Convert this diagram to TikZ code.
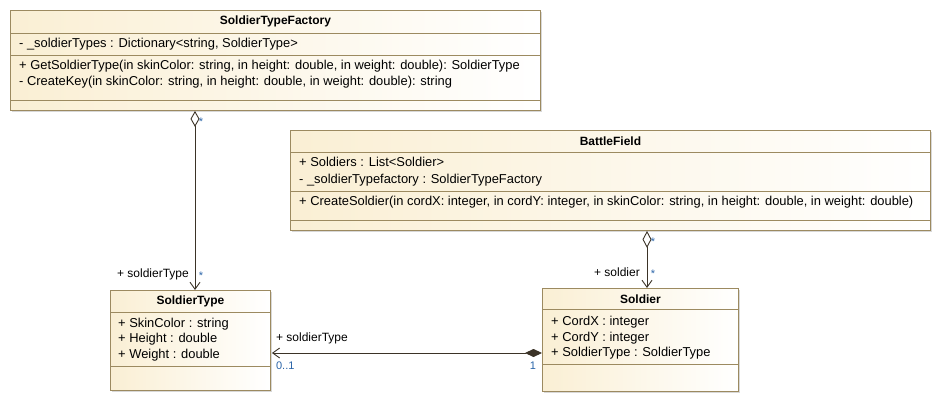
\documentclass[tikz,border=0pt]{standalone}
\usepackage{fontspec}
\setmainfont{Liberation Sans}
\usetikzlibrary{arrows.meta,calc,shadows}
\definecolor{umlfill}{HTML}{FAEFD4}
\definecolor{umlborder}{HTML}{9C8A60}
\definecolor{umlline}{HTML}{3B3327}
\definecolor{multcol}{HTML}{2A64A8}
\begin{document}
\begin{tikzpicture}[x=1pt,y=-1pt,
  font=\fontsize{12.9}{15}\selectfont,
  classbox/.style={draw=umlborder, line width=0.9pt, inner sep=0pt, anchor=north west,
    left color=umlfill, right color=white,
    drop shadow={shadow xshift=2pt, shadow yshift=-2pt, fill=black!30, opacity=0.5}},
  divider/.style={draw=umlborder, line width=0.9pt},
  member/.style={anchor=west, inner sep=0pt, text=black},
  ctitle/.style={inner sep=0pt, font=\fontsize{12}{14}\selectfont\bfseries},
  role/.style={inner sep=0pt, text=black, font=\fontsize{12}{14}\selectfont},
  mult/.style={inner sep=0pt, text=multcol, font=\fontsize{11}{13}\selectfont},
  assoc/.style={draw=umlline, line width=0.9pt},
]
\useasboundingbox (0,0) rectangle (941,403);

% ---- SoldierTypeFactory
\node[classbox, minimum width=530pt, minimum height=100pt] (stf) at (10,10) {};
\node[ctitle] (stfT) at ($(stf.north)+(0,11)$) {SoldierTypeFactory};
\draw[divider] ($(stf.north west)+(0,23)$) -- ($(stf.north east)+(0,23)$);
\node[member] (stfA) at ($(stf.north west)+(9,34)$) {- \_soldierTypes : Dictionary<string, SoldierType>};
\draw[divider] ($(stf.north west)+(0,45)$) -- ($(stf.north east)+(0,45)$);
\node[member] (stfO1) at ($(stf.north west)+(9,56)$) {+ GetSoldierType(in skinColor: string, in height: double, in weight: double): SoldierType};
\node[member] (stfO2) at ($(stf.north west)+(9,72)$) {- CreateKey(in skinColor: string, in height: double, in weight: double): string};
\draw[divider] ($(stf.north west)+(0,90)$) -- ($(stf.north east)+(0,90)$);

% ---- BattleField
\node[classbox, minimum width=640pt, minimum height=100pt] (bf) at (290,130) {};
\node[ctitle] (bfT) at ($(bf.north)+(0,11)$) {BattleField};
\draw[divider] ($(bf.north west)+(0,22)$) -- ($(bf.north east)+(0,22)$);
\node[member] (bfA1) at ($(bf.north west)+(9,32)$) {+ Soldiers : List<Soldier>};
\node[member] (bfA2) at ($(bf.north west)+(9,50)$) {- \_soldierTypefactory : SoldierTypeFactory};
\draw[divider] ($(bf.north west)+(0,61)$) -- ($(bf.north east)+(0,61)$);
\node[member] (bfO1) at ($(bf.north west)+(9,72)$) {+ CreateSoldier(in cordX: integer, in cordY: integer, in skinColor: string, in height: double, in weight: double)};
\draw[divider] ($(bf.north west)+(0,90)$) -- ($(bf.north east)+(0,90)$);

% ---- SoldierType
\node[classbox, minimum width=160pt, minimum height=100pt] (st) at (110,290) {};
\node[ctitle] (stT) at ($(st.north)+(0,11)$) {SoldierType};
\draw[divider] ($(st.north west)+(0,22)$) -- ($(st.north east)+(0,22)$);
\node[member] (stA1) at ($(st.north west)+(8,34)$) {+ SkinColor : string};
\node[member] (stA2) at ($(st.north west)+(8,49)$) {+ Height : double};
\node[member] (stA3) at ($(st.north west)+(8,65)$) {+ Weight : double};
\draw[divider] ($(st.north west)+(0,76)$) -- ($(st.north east)+(0,76)$);

% ---- Soldier
\node[classbox, minimum width=196pt, minimum height=103pt] (sd) at (542,288) {};
\node[ctitle] (sdT) at ($(sd.north)+(0,11)$) {Soldier};
\draw[divider] ($(sd.north west)+(0,21)$) -- ($(sd.north east)+(0,21)$);
\node[member] (sdA1) at ($(sd.north west)+(9,34)$) {+ CordX : integer};
\node[member] (sdA2) at ($(sd.north west)+(9,50)$) {+ CordY : integer};
\node[member] (sdA3) at ($(sd.north west)+(9,65)$) {+ SoldierType : SoldierType};
\draw[divider] ($(sd.north west)+(0,76)$) -- ($(sd.north east)+(0,76)$);

% ---- connectors
\draw[assoc, {Diamond[open,length=16pt,width=9pt]}-{Straight Barb[length=7pt,width=10pt]}]
  ($(stf.south west)+(185,0)$) -- ($(st.north west)+(85,0)$);
\node[mult] (m1) at ($(stf.south west)+(191,11)$) {*};
\node[role, anchor=east] (r1) at ($(st.north west)+(79,-16)$) {+ soldierType};
\node[mult] (m2) at ($(st.north west)+(91,-14)$) {*};

\draw[assoc, {Diamond[open,length=17pt,width=9pt]}-{Straight Barb[length=7pt,width=10pt]}]
  ($(bf.south west)+(357,0)$) -- ($(sd.north west)+(105,0)$);
\node[mult] (m3) at ($(bf.south west)+(363,11)$) {*};
\node[role, anchor=east] (r2) at ($(sd.north west)+(98,-16)$) {+ soldier};
\node[mult] (m4) at ($(sd.north west)+(111,-14)$) {*};

\draw[assoc, {Diamond[length=17pt,width=8pt,fill=umlline]}-{Straight Barb[length=7pt,width=10pt]}]
  ($(sd.north west)+(0,65)$) -- ($(st.north east)+(1,63)$);
\node[role, anchor=west] (r3) at ($(st.north east)+(5,48)$) {+ soldierType};
\node[mult, anchor=west] (m5) at ($(st.north east)+(5,76)$) {0..1};
\node[mult] (m6) at ($(sd.north west)+(-9,78)$) {1};
\end{tikzpicture}
\end{document}
